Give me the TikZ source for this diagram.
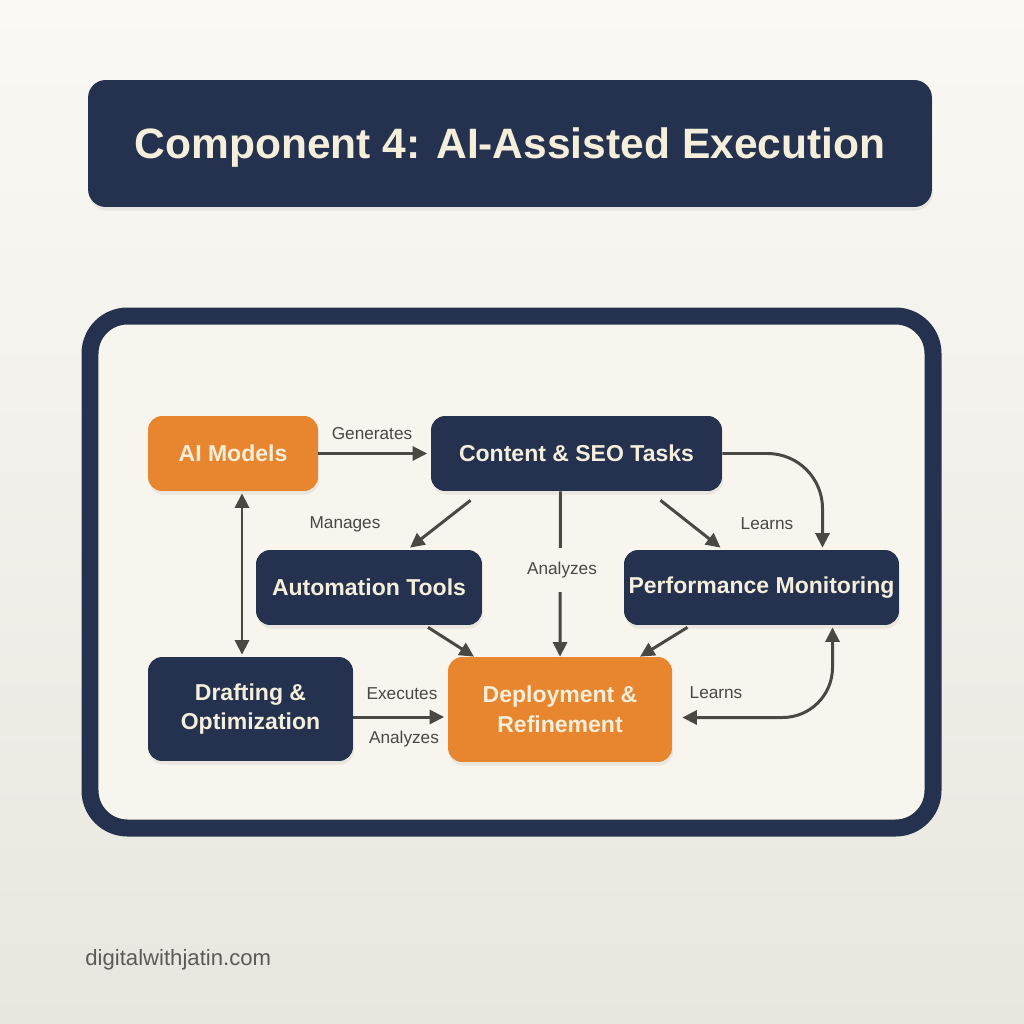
\documentclass[tikz,border=0pt]{standalone}
\usepackage{fontspec}
\setmainfont{Liberation Sans}
\usetikzlibrary{arrows.meta, positioning, calc, shadows}
\definecolor{navy}{HTML}{25324F}
\definecolor{accent}{HTML}{E7862F}
\definecolor{paper}{HTML}{F7F5ED}
\definecolor{ink}{HTML}{4A4843}
\definecolor{cream}{HTML}{F4EEDB}

\begin{document}
\begin{tikzpicture}[
      x=0.02cm, y=-0.02cm,
      >={Triangle[length=2.9mm, width=2.8mm]},
      every node/.append style={font=\fontsize{13.1}{17}\selectfont\bfseries},
      box/.style={rectangle, rounded corners=8pt, minimum height=1.5cm,
                  align=center, text=cream, inner sep=2pt,
                  drop shadow={opacity=0.12, shadow xshift=0.6pt, shadow yshift=-2pt}},
      nbox/.style={box, fill=navy},
      obox/.style={box, fill=accent},
      headbox/.style={box, fill=navy, rounded corners=10pt, text depth=0pt,
                  font=\fontsize{24.2}{28}\selectfont\bfseries},
      flow/.style={draw=ink, line width=1.7pt},
      lbl/.style={font=\fontsize{9.8}{12}\selectfont, text=ink},
    ]
      % page
      \shade[top color=white!40!paper, bottom color=paper!90!black!60!paper] (0,0) rectangle (1024,1024);
      \useasboundingbox (0,0) rectangle (1024,1024);

      \node[headbox, minimum width=16.88cm, minimum height=2.54cm] (head) at (510,143.5)
        {Component 4: AI-Assisted Execution};

      % frame
      \draw[navy, line width=0.34cm, fill=paper, rounded corners=0.75cm] (90,316) rectangle (933,828);

      \node[obox, minimum width=3.4cm] (ai) at (233,453.5) {AI Models};
      \node[nbox, minimum width=5.82cm] (tasks) at (576.5,453.5) {Content \& SEO Tasks};
      \node[nbox, minimum width=4.52cm] (tools) at (369,587.5) {Automation Tools};
      \node[nbox, minimum width=5.5cm] (monitor) at (761.5,587.5) {Performance Monitoring};
      \node[nbox, minimum width=4.1cm, minimum height=2.08cm] (draft) at (250.5,709) {Drafting \&\\Optimization};
      \node[obox, minimum width=4.48cm, minimum height=2.1cm] (deploy) at (560,709.5) {Deployment \&\\Refinement};

      \draw[flow, ->, shorten >=2pt] (ai.east) -- (tasks.west);
      \node[lbl] (gen) at (372,434) {Generates};

      \draw[flow, ->] ($(tasks.south)+(-106,9)$) -- ($(tools.north)+(41,-2)$);
      \node[lbl] (man) at (345,524) {Manages};

      \draw[flow, ->] ($(tasks.south)+(-16,0)$) -- (deploy.north);
      \node[lbl, fill=paper, inner ysep=8pt] (ana) at (562,570) {Analyzes};

      \draw[flow, ->] ($(tasks.south)+(84,9)$) -- ($(monitor.north)+(-41,-2)$);
      \node[lbl] (learn) at (767,524) {Learns};

      \draw[flow, ->, rounded corners=1.1cm] (tasks.east) -| ($(monitor.north)+(61,-2)$);

      \draw[flow, <->] ($(ai.south)+(9,2)$) -- ($(draft.north)+(-8.5,-2)$);

      \draw[flow, ->] ($(tools.south)+(59,2)$) -- ($(deploy.north)+(-86,0)$);
      \draw[flow, ->] ($(monitor.south)+(-74,2)$) -- ($(deploy.north)+(80,0)$);

      \draw[flow, ->] ($(draft.east)+(0,8)$) coordinate (d0) -- ([xshift=-2pt]deploy.west |- d0);
      \node[lbl] (exe) at (402,694) {Executes};
      \node[lbl] (ana2) at (404,739) {Analyzes};

      \draw[flow, <->, rounded corners=1cm] ($(deploy.east)+(10,8)$) -| ($(monitor.south)+(71,2)$);
      \node[lbl] (learn2) at (716,693) {Learns};

      \node[font=\fontsize{12.6}{14}\selectfont, text=ink!90, anchor=west, inner sep=0pt] (site) at (85,960)
        {digitalwithjatin.com};
    \end{tikzpicture}
\end{document}
